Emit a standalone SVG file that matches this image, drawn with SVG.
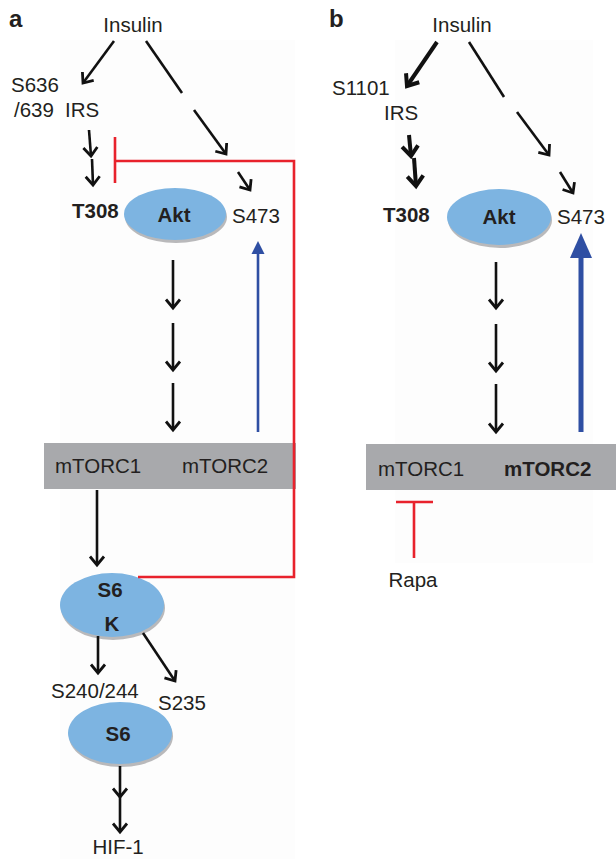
<svg xmlns="http://www.w3.org/2000/svg" width="616" height="859" viewBox="0 0 616 859">
<defs>
<style>
.t{font-family:"Liberation Sans",Arial,sans-serif;font-size:20.5px;fill:#231f20}
.b{font-weight:bold}
.ar{stroke:#111;stroke-width:2.6;fill:none;marker-end:url(#v)}
.ar2{stroke:#111;stroke-width:4;fill:none;marker-end:url(#v2)}
.ln{stroke:#111;stroke-width:2.6;fill:none}
.red{stroke:#e8222c;stroke-width:2.6;fill:none}
.node{fill:#7db4e1}
.shd{fill:#b9b9bb}
.bar{fill:#a8a9ac}
</style>
<marker id="v" markerUnits="userSpaceOnUse" markerWidth="20" markerHeight="20" viewBox="-10 -10 20 20" refX="0" refY="0" orient="auto">
<path d="M-8.5,-7 L0,0 L-8.5,7" fill="none" stroke="#111" stroke-width="2.8"/>
</marker>
<marker id="v2" markerUnits="userSpaceOnUse" markerWidth="24" markerHeight="24" viewBox="-12 -12 24 24" refX="0" refY="0" orient="auto">
<path d="M-10,-8 L0,0 L-10,8" fill="none" stroke="#111" stroke-width="4"/>
</marker>
</defs>
<rect width="616" height="859" fill="#fff"/>
<rect x="60" y="40" width="235" height="819" fill="#fdfdfd"/>
<rect x="395" y="40" width="198" height="523" fill="#fdfdfd"/>

<g id="panel-a">
<text class="t b" x="9" y="27" style="font-size:24px">a</text>
<g id="a-insulin"><text class="t" x="133" y="32" text-anchor="middle">Insulin</text></g>
<g id="a-irs"><text class="t" x="11" y="92">S636</text><text class="t" x="14" y="117">/639</text><text class="t" x="65" y="117">IRS</text></g>
<g id="a-akt">
<ellipse class="shd" cx="176" cy="217" rx="51" ry="26"/>
<ellipse class="node" cx="175" cy="214" rx="51" ry="26"/>
<text class="t b" x="174" y="222" text-anchor="middle">Akt</text>
<text class="t b" x="72" y="218">T308</text>
<text class="t" x="232" y="223">S473</text>
</g>
<g id="a-mtorc">
<rect class="bar" x="44" y="443" width="252" height="46"/>
<text class="t" x="55" y="473">mTORC1</text>
<text class="t" x="182" y="473">mTORC2</text>
</g>
<g id="a-s6k">
<ellipse class="shd" cx="113" cy="608" rx="52" ry="32"/>
<ellipse class="node" cx="112" cy="605" rx="52" ry="32"/>
<text class="t b" x="110" y="597" text-anchor="middle">S6</text>
<text class="t b" x="112" y="631" text-anchor="middle">K</text>
</g>
<g id="a-s6">
<text class="t" x="51" y="698">S240/244</text>
<text class="t" x="158" y="710">S235</text>
<ellipse class="shd" cx="121" cy="736" rx="52" ry="31"/>
<ellipse class="node" cx="120" cy="733" rx="52" ry="31"/>
<text class="t b" x="118" y="741" text-anchor="middle">S6</text>
</g>
<g id="a-hif"><text class="t" x="118" y="854" text-anchor="middle">HIF-1</text></g>
</g>

<g id="panel-b">
<text class="t b" x="329" y="27" style="font-size:24px">b</text>
<g id="b-insulin"><text class="t" x="462" y="32" text-anchor="middle">Insulin</text></g>
<g id="b-irs"><text class="t" x="332" y="95">S1101</text><text class="t" x="384" y="120">IRS</text></g>
<g id="b-akt">
<ellipse class="shd" cx="500" cy="220" rx="52" ry="28"/>
<ellipse class="node" cx="499" cy="217" rx="52" ry="28"/>
<text class="t b" x="499" y="224" text-anchor="middle">Akt</text>
<text class="t b" x="383" y="222">T308</text>
<text class="t" x="557" y="224">S473</text>
</g>
<g id="b-mtorc">
<rect class="bar" x="366" y="444" width="250" height="46"/>
<text class="t" x="378" y="476">mTORC1</text>
<text class="t b" x="504" y="476">mTORC2</text>
</g>
<g id="b-rapa"><text class="t" x="413" y="587" text-anchor="middle">Rapa</text></g>
</g>

<g id="connectors">
<line class="ar" x1="114" y1="41" x2="83" y2="83"/>
<line class="ln" x1="146" y1="41" x2="182" y2="93"/>
<line class="ar" x1="194" y1="110" x2="226" y2="154"/>
<line class="ar" x1="89" y1="130" x2="91" y2="156"/>
<line class="ar" x1="92" y1="159" x2="93" y2="185"/>
<line class="ar" x1="238" y1="172" x2="250" y2="190"/>
<path class="red" d="M115,137 L115,183 M115,161 L294,161 L294,577 L138,577"/>
<line stroke="#2f4fa3" stroke-width="2.6" x1="258" y1="432" x2="258" y2="252"/>
<path d="M258,241 L264.5,254 L251.5,254 Z" fill="#2f4fa3"/>
<line class="ar" x1="173" y1="260" x2="173" y2="308"/>
<line class="ar" x1="173" y1="323" x2="173" y2="370"/>
<line class="ar" x1="173" y1="383" x2="173" y2="430"/>
<line class="ar" x1="97" y1="490" x2="97" y2="565"/>
<line class="ar" x1="98" y1="636" x2="98" y2="673"/>
<line class="ar" x1="143" y1="633" x2="175" y2="681"/>
<line class="ar" x1="120" y1="766" x2="120" y2="797"/>
<line class="ar" x1="120" y1="797" x2="120" y2="832"/>
<line class="ar2" x1="437" y1="42" x2="407" y2="86"/>
<line class="ln" x1="469" y1="42" x2="504" y2="97"/>
<line class="ar" x1="517" y1="112" x2="549" y2="155"/>
<line class="ar2" x1="409" y1="135" x2="411" y2="156"/>
<line class="ar2" x1="414" y1="158" x2="416" y2="186"/>
<line class="ar" x1="560" y1="172" x2="573" y2="193"/>
<line stroke="#2f4fa3" stroke-width="5" x1="581" y1="432" x2="581" y2="255"/>
<path d="M581,233 L592,258 L570,258 Z" fill="#2f4fa3"/>
<line class="ar" x1="496" y1="262" x2="496" y2="308"/>
<line class="ar" x1="496" y1="324" x2="496" y2="371"/>
<line class="ar" x1="496" y1="384" x2="496" y2="432"/>
<path class="red" d="M396,502 L433,502 M414,502 L414,558"/>
</g>
</svg>
